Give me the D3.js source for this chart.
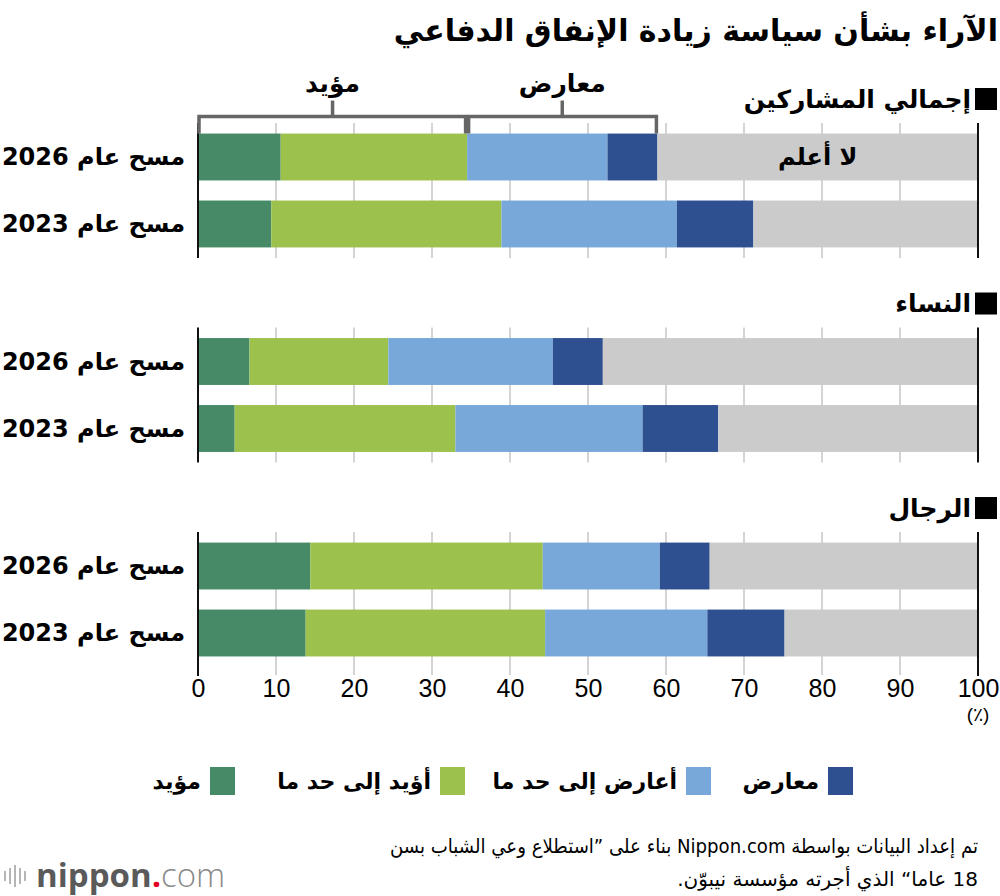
<!DOCTYPE html>
<html>
<head>
<meta charset="utf-8">
<style>
  body { margin: 0; background: #fff; }
  text { font-family: "DejaVu Sans", "Noto Sans", sans-serif; }
</style>
</head>
<body>
<div id="container"></div>
<script src="https://cdn.jsdelivr.net/npm/d3@7/dist/d3.min.js"></script>
<script>
    // Data
    let groups = ["إجمالي المشاركين", "النساء", "الرجال"];
    let surveys = ["مسح عام 2026", "مسح عام 2023"];
    let categories = ["مؤيد", "أؤيد إلى حد ما", "أعارض إلى حد ما", "معارض", "لا أعلم"];
    let totalValues = [[10.6, 23.9, 18.0, 6.4, 41.1], [9.4, 29.5, 22.5, 9.8, 28.8]];
    let womenValues = [[6.6, 17.8, 21.1, 6.4, 48.1], [4.7, 28.3, 24.0, 9.7, 33.3]];
    let menValues = [[14.4, 29.8, 15.0, 6.4, 34.4], [13.8, 30.7, 20.8, 9.9, 24.8]];
    let xTicks = [0, 10, 20, 30, 40, 50, 60, 70, 80, 90, 100];
    let bracketLabels = ["مؤيد", "معارض"];
    let title = "الآراء بشأن سياسة زيادة الإنفاق الدفاعي";
    let sourceLines = [
        "تم إعداد البيانات بواسطة Nippon.com بناء على ”استطلاع وعي الشباب بسن",
        "18 عاما“ الذي أجرته مؤسسة نيبوّن."
    ];

    let colors = ["#468a68", "#9cc14c", "#78a8d9", "#2f5090", "#cbcbcb"];
    let groupValues = [totalValues, womenValues, menValues];

    let svg = d3.select("#container")
        .append("svg")
        .attr("width", 1000)
        .attr("height", 896);

    // Scales
    let x = d3.scaleLinear().domain([0, 100]).range([198, 978]);
    let gy = d3.scaleBand().domain(groups).range([123, 667]).paddingInner(0.34);
    let by = d3.scaleBand().domain(surveys).range([0, gy.bandwidth()])
        .paddingInner(0.3).paddingOuter(0.1575);

    // Stack rows
    let rows = [];
    groups.forEach((g, gi) => {
        surveys.forEach((s, si) => {
            let acc = 0;
            groupValues[gi][si].forEach((v, ci) => {
                rows.push({ group: g, survey: s, cat: ci, x0: acc, x1: acc + v });
                acc += v;
            });
        });
    });

    // Title
    svg.append("text")
        .attr("x", 998)
        .attr("y", 41)
        .attr("text-anchor", "end")
        .attr("font-size", 30)
        .attr("font-weight", "bold")
        .text(title);

    let lastGroup = groups[groups.length - 1];

    // Gridlines
    groups.forEach((g) => {
        let ext = g === lastGroup ? 8 : 0;
        svg.append("g").selectAll("line")
            .data(xTicks.slice(1, -1))
            .enter()
            .append("line")
            .attr("x1", (d) => x(d))
            .attr("x2", (d) => x(d))
            .attr("y1", gy(g))
            .attr("y2", gy(g) + gy.bandwidth() + ext)
            .attr("stroke", "#c6c6c6")
            .attr("stroke-width", 1.5);
    });

    // Bars
    svg.append("g").selectAll("rect")
        .data(rows)
        .enter()
        .append("rect")
        .attr("x", (d) => x(d.x0))
        .attr("width", (d) => x(d.x1) - x(d.x0))
        .attr("y", (d) => gy(d.group) + by(d.survey))
        .attr("height", by.bandwidth())
        .attr("fill", (d) => colors[d.cat]);

    // Left / right frame lines per group
    groups.forEach((g) => {
        let ext = g === lastGroup ? 9 : 0;
        [0, 100].forEach((v) => {
            svg.append("line")
                .attr("x1", x(v)).attr("x2", x(v))
                .attr("y1", gy(g))
                .attr("y2", gy(g) + gy.bandwidth() + ext)
                .attr("stroke", "#111")
                .attr("stroke-width", 2);
        });
    });

    // Group headers
    groups.forEach((g) => {
        let cy = gy(g) - 24;
        svg.append("rect")
            .attr("x", 975).attr("y", cy - 11)
            .attr("width", 22).attr("height", 22)
            .attr("fill", "#000");
        svg.append("text")
            .attr("x", 971)
            .attr("y", cy)
            .attr("dy", "0.35em")
            .attr("text-anchor", "end")
            .attr("font-size", 25)
            .attr("font-weight", "bold")
            .text(g);
    });

    // Row labels
    groups.forEach((g) => {
        svg.append("g").selectAll("text")
            .data(surveys)
            .enter()
            .append("text")
            .attr("x", 185)
            .attr("y", (d) => gy(g) + by(d) + by.bandwidth() / 2)
            .attr("dy", "0.35em")
            .attr("text-anchor", "end")
            .attr("font-size", 24)
            .attr("font-weight", "bold")
            .text((d) => d);
    });

    // "Don't know" label inside the first bar
    let firstGray = rows.find((d) => d.group === groups[0] && d.survey === surveys[0] && d.cat === 4);
    svg.append("text")
        .attr("x", (x(firstGray.x0) + x(firstGray.x1)) / 2)
        .attr("y", gy(groups[0]) + by(surveys[0]) + by.bandwidth() / 2)
        .attr("dy", "0.35em")
        .attr("text-anchor", "middle")
        .attr("font-size", 24)
        .attr("font-weight", "bold")
        .text(categories[4]);

    // Bracket above first bar
    let support = totalValues[0][0] + totalValues[0][1];
    let oppose = support + totalValues[0][2] + totalValues[0][3];
    let barTop = gy(groups[0]) + by(surveys[0]);
    let brY = barTop - 17;
    let spans = [[0, support, -1.5], [support, oppose, 1.5]];
    spans.forEach((s, i) => {
        let a = x(s[0]) + (i === 0 ? 1 : s[2]);
        let b = x(s[1]) + (i === 0 ? s[2] : -1);
        svg.append("path")
            .attr("d", `M${a},${barTop} V${brY} H${b} V${barTop}`)
            .attr("fill", "none")
            .attr("stroke", "#666")
            .attr("stroke-width", 3.5);
        let mid = (x(s[0]) + x(s[1])) / 2;
        svg.append("line")
            .attr("x1", mid).attr("x2", mid)
            .attr("y1", brY).attr("y2", brY - 16)
            .attr("stroke", "#666")
            .attr("stroke-width", 3.5);
        svg.append("text")
            .attr("x", mid)
            .attr("y", brY - 25)
            .attr("text-anchor", "middle")
            .attr("font-size", 25)
            .attr("font-weight", "bold")
            .text(bracketLabels[i]);
    });

    // X axis
    let axis = svg.append("g")
        .attr("transform", `translate(0, ${gy(lastGroup) + gy.bandwidth()})`)
        .call(d3.axisBottom(x).tickValues(xTicks).tickSize(8).tickPadding(4).tickSizeOuter(0));
    axis.select(".domain").remove();
    axis.selectAll(".tick line").remove();
    axis.selectAll(".tick text")
        .attr("fill", "#000")
        .attr("font-size", 25)
        .style("font-family", "'Liberation Sans Narrow', 'Liberation Sans', sans-serif");
    svg.append("text")
        .attr("x", x(100))
        .attr("y", 721)
        .attr("text-anchor", "middle")
        .attr("font-size", 19)
        .style("font-family", "'Liberation Sans Narrow', 'Liberation Sans', sans-serif")
        .text("(٪)");

    // Legend
    let legendRight = [235, 465, 711, 853];
    let legend = svg.append("g").selectAll("g")
        .data(categories.slice(0, 4))
        .enter()
        .append("g");
    legend.append("rect")
        .attr("x", (d, i) => legendRight[i] - 25)
        .attr("y", 767)
        .attr("width", 25)
        .attr("height", 28)
        .attr("fill", (d, i) => colors[i]);
    legend.append("text")
        .attr("x", (d, i) => legendRight[i] - 34)
        .attr("y", 781)
        .attr("dy", "0.35em")
        .attr("text-anchor", "end")
        .attr("font-size", 22)
        .attr("font-weight", "bold")
        .text((d) => d);

    // Source note
    svg.append("g").selectAll("text")
        .data(sourceLines)
        .enter()
        .append("text")
        .attr("x", 978)
        .attr("y", (d, i) => 853 + i * 33)
        .attr("direction", "rtl")
        .attr("text-anchor", "start")
        .attr("font-size", 20)
        .attr("textLength", (d, i) => i === 0 ? 588 : null)
        .attr("lengthAdjust", "spacingAndGlyphs")
        .text((d) => d);

    // Logo
    let logo = svg.append("g");
    [10, 16, 22, 16, 10].forEach((h, i) => {
        logo.append("line")
            .attr("x1", 5 + i * 5).attr("x2", 5 + i * 5)
            .attr("y1", 876 - h / 2).attr("y2", 876 + h / 2)
            .attr("stroke", "#b5b5b5")
            .attr("stroke-width", 2);
    });
    let logoText = logo.append("text")
        .attr("x", 36)
        .attr("y", 887)
        .attr("font-size", 33)
        .style("font-family", "'Open Sans', sans-serif");
    logoText.append("tspan").attr("font-weight", "bold").attr("fill", "#5a5a5a").text("nippon");
    logoText.append("tspan").attr("font-weight", "bold").attr("fill", "#e60023").text(".");
    logoText.append("tspan").attr("font-weight", 300).attr("fill", "#8a8a8a").text("com");
</script>
</body>
</html>
